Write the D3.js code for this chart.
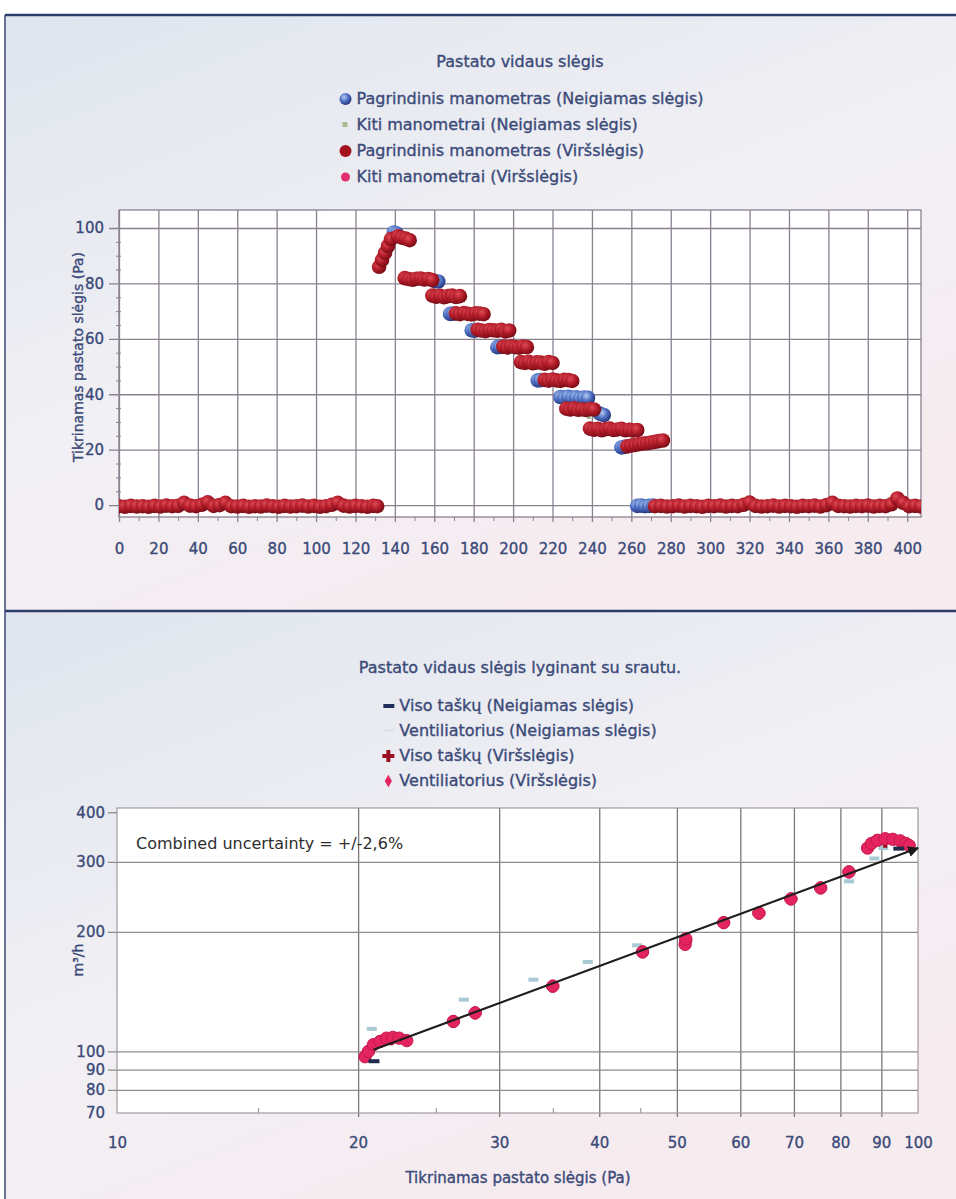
<!DOCTYPE html>
<html>
<head>
<meta charset="utf-8">
<script src="https://cdn.jsdelivr.net/npm/d3@7"></script>
<style>
  body { margin: 0; background: #fff; }
  text { font-family: "DejaVu Sans", "Noto Sans", sans-serif; }
</style>
</head>
<body>
<div id="chart"></div>
<script>
// ---------- chart 1: Pastato vidaus slėgis ----------
const title1 = "Pastato vidaus slėgis";
const legend1 = [
  "Pagrindinis manometras (Neigiamas slėgis)",
  "Kiti manometrai (Neigiamas slėgis)",
  "Pagrindinis manometras (Viršslėgis)",
  "Kiti manometrai (Viršslėgis)"
];
const xTicks1 = [0, 20, 40, 60, 80, 100, 120, 140, 160, 180, 200, 220, 240, 260, 280, 300, 320, 340, 360, 380, 400];
const xMinor1 = [10, 30, 50, 70, 90, 110, 130, 150, 170, 190, 210, 230, 250, 270, 290, 310, 330, 350, 370, 390];
const yTicks1 = [0, 20, 40, 60, 80, 100];
const yMinor1 = [5, 10, 15, 25, 30, 35, 45, 50, 55, 65, 70, 75, 85, 90, 95];

// Pagrindinis manometras (Neigiamas slėgis)
const mainNeg = [
  [139.5, 98.4], [141, 98], [160, 80.9], [162, 80.7], [168, 69], [169.5, 69.1],
  [179, 63.1], [180.5, 62.9], [192, 57], [193.5, 57.1], [212.5, 45], [214, 45.1],
  [224, 39], [226, 38.8], [228, 39.1], [230, 38.7], [232, 38.9], [234, 38.6], [236, 38.8], [238, 38.7],
  [244, 33], [246, 32.5], [255, 20.8], [256.5, 21],
  [263, -0.3], [265, -0.2], [267, -0.4], [269, -0.3], [271, -0.2]
];
// Kiti manometrai (Neigiamas slėgis)
const otherNeg = [[238.5, 31.8]];
// Pagrindinis manometras (Viršslėgis)
const mainPos = [
  [0, -0.4], [3, -0.6], [6, -0.3], [9, -0.5], [12, -0.4], [15, -0.6], [18, -0.3], [21, -0.5], [24, -0.2],
  [27, -0.4], [30, -0.3], [33, 0.8], [36, -0.2], [39, -0.4], [42, 0.1], [45, 1.0], [48, -0.3], [51, 0.0],
  [54, 0.8], [57, -0.4], [60, -0.5], [63, -0.3], [66, -0.6], [69, -0.4], [72, -0.5], [75, -0.2], [78, -0.4],
  [81, -0.6], [84, -0.3], [87, -0.5], [90, -0.4], [93, -0.2], [96, -0.5], [99, -0.3], [102, -0.6], [105, -0.4],
  [108, 0.1], [111, 0.8], [114, -0.2], [117, -0.5], [120, -0.3], [123, -0.4], [126, -0.6], [129, -0.3], [131, -0.4],
  [132, 86], [133.5, 88.5], [135, 91], [136.5, 93.5], [138, 96], [141.5, 97], [143.5, 96.5], [145.5, 96.2], [147.5, 95.6],
  [145, 81.9], [147, 81.6], [149, 81.3], [151, 81.7], [153, 81.8], [155, 81.4], [157, 81.6], [159, 81.2],
  [159, 75.6], [161, 75.2], [163, 75.5], [165, 75.0], [167, 75.4], [169, 75.6], [171, 75.1], [173, 75.4],
  [171, 69.2], [173, 68.9], [175, 69.3], [177, 69.0], [179, 68.8], [181, 69.2], [183, 69.1], [185, 68.9],
  [182, 63.3], [184, 63.0], [186, 62.8], [188, 63.2], [190, 63.1], [192, 62.9], [194, 63.3], [196, 62.7], [198, 63.0],
  [195, 57.2], [197, 56.9], [199, 57.3], [201, 57.0], [203, 56.8], [205, 57.2], [207, 57.0],
  [204, 51.6], [206, 51.3], [208, 51.7], [210, 51.2], [212, 51.5], [214, 51.4], [216, 51.0], [218, 51.6], [220, 51.3],
  [216, 45.2], [218, 44.9], [220, 45.3], [222, 45.0], [224, 44.8], [226, 45.2], [228, 45.1], [230, 44.8],
  [227, 34.8], [229, 34.5], [231, 34.9], [233, 34.4], [235, 34.6], [237, 34.3], [239, 34.7], [241, 34.5],
  [239, 27.6], [241, 27.2], [243, 27.5], [245, 27.0], [247, 27.4], [249, 27.6], [251, 27.1], [253, 27.3],
  [255, 27.5], [257, 27.0], [259, 27.2], [261, 26.9], [263, 27.1],
  [258, 21.2], [260, 21.5], [262, 21.7], [264, 22.0], [266, 22.2], [268, 22.3], [270, 22.6], [272, 22.8], [274, 23.1], [276, 23.3],
  [272, -0.4], [275, -0.3], [278, -0.5], [281, -0.4], [284, -0.2], [287, -0.5], [290, -0.3], [293, -0.4], [296, -0.6],
  [299, -0.3], [302, -0.4], [305, -0.2], [308, -0.5], [311, -0.3], [314, -0.4], [317, 0.1], [320, 0.9], [323, -0.3],
  [326, -0.5], [329, -0.4], [332, -0.2], [335, -0.5], [338, -0.3], [341, -0.4], [344, -0.6], [347, -0.3], [350, -0.4],
  [353, -0.2], [356, -0.5], [359, 0.0], [362, 0.8], [365, -0.3], [368, -0.4], [371, -0.5], [374, -0.3], [377, -0.4],
  [380, -0.2], [383, -0.5], [386, -0.3], [389, -0.4], [392, 0.3], [395, 2.4], [398, 0.8], [401, -0.4], [404, -0.3], [407, -0.5]
];
// Kiti manometrai (Viršslėgis)
const otherPos = [];

// ---------- chart 2: Pastato vidaus slėgis lyginant su srautu ----------
const title2 = "Pastato vidaus slėgis lyginant su srautu.";
const legend2 = [
  "Viso taškų (Neigiamas slėgis)",
  "Ventiliatorius (Neigiamas slėgis)",
  "Viso taškų (Viršslėgis)",
  "Ventiliatorius (Viršslėgis)"
];
const xTicks2 = [10, 20, 30, 40, 50, 60, 70, 80, 90, 100];
const xMinor2 = [15, 25, 35, 45];
const yTicks2 = [70, 80, 90, 100, 200, 300, 400];
const yGrid2 = [80, 90, 100, 200, 300];
const uncertaintyText = "Combined uncertainty = +/-2,6%";

// Viso taškų (Neigiamas slėgis)
const allNeg = [[20.9, 94.5], [94.5, 324]];
// Ventiliatorius (Neigiamas slėgis)
const fanNeg = [[20.8, 114], [27.1, 135], [33.1, 151.6], [38.7, 168], [44.6, 185], [82, 268], [88.2, 306], [90.5, 325]];
// Viso taškų (Viršslėgis)
const allPos = [[20.6, 100], [22.0, 107.5], [26.3, 119], [28.0, 125], [35.0, 146], [45.3, 178], [51.3, 190],
  [57.2, 211], [63.3, 223], [69.4, 242], [75.6, 258], [82.0, 283], [91.0, 338]];
// Ventiliatorius (Viršslėgis)
const fanPos = [[20.4, 97], [20.6, 100], [20.9, 104], [21.3, 106], [21.7, 108], [22.1, 108.5], [22.5, 108], [23.0, 106.5],
  [26.3, 119], [28.0, 125], [35.0, 146], [45.3, 178], [51.2, 186], [51.3, 192], [57.2, 211], [63.3, 223], [69.4, 242],
  [75.6, 258], [82.0, 283], [86.5, 325], [87.5, 334], [89, 340], [91, 343], [93, 342], [95, 339], [96.5, 334], [97.5, 330]];
// fitted line ends
const fitLine = [[20.9, 101], [100, 325]];

// ---------- drawing ----------
const W = 956, H = 1199;
const textCol = "#3b4a78", gridCol = "#8a8190";

const svg = d3.select("#chart").append("svg")
  .attr("width", W).attr("height", H);

const defs = svg.append("defs");
function sphere(id, c0, c1, c2) {
  const g = defs.append("radialGradient").attr("id", id)
    .attr("cx", "38%").attr("cy", "35%").attr("r", "65%");
  g.append("stop").attr("offset", "0%").attr("stop-color", c0);
  g.append("stop").attr("offset", "55%").attr("stop-color", c1);
  g.append("stop").attr("offset", "100%").attr("stop-color", c2);
}
sphere("gRed", "#e04a56", "#b01c28", "#780c16");
sphere("gBlue", "#b4ccf2", "#4d6fc4", "#26367c");

const bg = defs.append("linearGradient").attr("id", "panelBg")
  .attr("x1", "0").attr("y1", "0").attr("x2", "0.6").attr("y2", "1");
bg.append("stop").attr("offset", "0%").attr("stop-color", "#dfe5ee");
bg.append("stop").attr("offset", "55%").attr("stop-color", "#f1f0f4");
bg.append("stop").attr("offset", "100%").attr("stop-color", "#f6ebef");

defs.append("marker").attr("id", "arrow")
  .attr("viewBox", "0 0 10 10").attr("refX", 9).attr("refY", 5)
  .attr("markerWidth", 5).attr("markerHeight", 5).attr("orient", "auto")
  .append("path").attr("d", "M0,0L10,5L0,10Z").attr("fill", "#1a1a1a");

// panels
svg.append("rect").attr("x", 5).attr("y", 15).attr("width", W - 5).attr("height", 596).attr("fill", "url(#panelBg)");
svg.append("rect").attr("x", 5).attr("y", 611).attr("width", W - 5).attr("height", H - 611).attr("fill", "url(#panelBg)");
svg.append("line").attr("x1", 5).attr("x2", W).attr("y1", 15).attr("y2", 15).attr("stroke", "#2c3d6c").attr("stroke-width", 2.5);
svg.append("line").attr("x1", 5).attr("x2", W).attr("y1", 611).attr("y2", 611).attr("stroke", "#2c3d6c").attr("stroke-width", 2.5);
svg.append("line").attr("x1", 5).attr("x2", 5).attr("y1", 15).attr("y2", H).attr("stroke", "#3a4a70").attr("stroke-width", 1.5);

function styleText(sel, size) {
  sel.attr("fill", textCol).attr("font-size", size)
    .attr("stroke", textCol).attr("stroke-width", 0.35);
}

// centred legend block: marker column then text
function drawLegend(items, cx, y0, step, size) {
  const g = svg.append("g");
  const texts = items.map((t, i) => g.append("text").attr("y", y0 + i * step + 5).text(t).call(styleText, size));
  const wMax = d3.max(texts, t => t.node().getComputedTextLength());
  const markX = cx - (wMax + 16) / 2 + 5;
  texts.forEach(t => t.attr("x", markX + 11));
  return { g, markX };
}

// ===== chart 1 =====
const p1 = { left: 119, right: 921, top: 210, bottom: 517 };
const x1 = d3.scaleLinear().domain([0, 407]).range([p1.left, p1.right]);
const y1 = d3.scaleLinear().domain([-4.3, 106.5]).range([p1.bottom, p1.top]);

svg.append("rect").attr("x", p1.left).attr("y", p1.top)
  .attr("width", p1.right - p1.left).attr("height", p1.bottom - p1.top).attr("fill", "#fff");

// vertical grid (extends 5px under the axis)
svg.append("g").attr("transform", `translate(0,${p1.bottom + 5})`)
  .call(d3.axisBottom(x1).tickValues(xTicks1).tickSize(-(p1.bottom + 5 - p1.top)).tickSizeOuter(0).tickFormat(""))
  .call(g => g.select(".domain").remove())
  .selectAll("line").attr("stroke", gridCol).attr("stroke-width", 1.3);
// horizontal grid (extends 10px left)
svg.append("g").attr("transform", `translate(${p1.left - 10},0)`)
  .call(d3.axisLeft(y1).tickValues(yTicks1).tickSize(-(p1.right - p1.left + 10)).tickSizeOuter(0).tickFormat(""))
  .call(g => g.select(".domain").remove())
  .selectAll("line").attr("stroke", gridCol).attr("stroke-width", 1.3);
// minor ticks
svg.append("g").attr("transform", `translate(0,${p1.bottom})`)
  .call(d3.axisBottom(x1).tickValues(xMinor1).tickSize(4).tickSizeOuter(0).tickFormat(""))
  .call(g => g.select(".domain").remove())
  .selectAll("line").attr("stroke", gridCol);
svg.append("g").attr("transform", `translate(${p1.left + 2},0)`)
  .call(d3.axisLeft(y1).tickValues(yMinor1).tickSize(5).tickSizeOuter(0).tickFormat(""))
  .call(g => g.select(".domain").remove())
  .selectAll("line").attr("stroke", gridCol);
// frame
svg.append("rect").attr("x", p1.left).attr("y", p1.top)
  .attr("width", p1.right - p1.left).attr("height", p1.bottom - p1.top)
  .attr("fill", "none").attr("stroke", gridCol).attr("stroke-width", 1.3);

// tick labels
svg.append("g").attr("transform", `translate(0,${p1.bottom})`)
  .call(d3.axisBottom(x1).tickValues(xTicks1).tickSize(0).tickPadding(37))
  .call(g => g.select(".domain").remove())
  .selectAll("text").attr("dy", 0).attr("font-family", null).call(styleText, 15);
svg.append("g").attr("transform", `translate(${p1.left - 15},0)`)
  .call(d3.axisLeft(y1).tickValues(yTicks1).tickSize(0).tickPadding(0))
  .call(g => g.select(".domain").remove())
  .selectAll("text").call(styleText, 15);

svg.append("text")
  .attr("transform", `translate(83,357) rotate(-90)`)
  .attr("text-anchor", "middle").call(styleText, 14)
  .text("Tikrinamas pastato slėgis (Pa)");

// points
svg.append("clipPath").attr("id", "clip1").append("rect")
  .attr("x", p1.left).attr("y", p1.top).attr("width", p1.right - p1.left).attr("height", p1.bottom - p1.top);
const d1 = svg.append("g").attr("clip-path", "url(#clip1)");
d1.selectAll(".neg").data(mainNeg).enter().append("circle")
  .attr("cx", d => x1(d[0])).attr("cy", d => y1(d[1])).attr("r", 7.3)
  .attr("fill", "url(#gBlue)");
d1.selectAll(".oneg").data(otherNeg).enter().append("rect")
  .attr("x", d => x1(d[0]) - 2).attr("y", d => y1(d[1]) - 2).attr("width", 4).attr("height", 4)
  .attr("fill", "#9fba8c");
d1.selectAll(".pos").data(mainPos).enter().append("circle")
  .attr("cx", d => x1(d[0])).attr("cy", d => y1(d[1])).attr("r", 7.3)
  .attr("fill", "url(#gRed)");
d1.selectAll(".opos").data(otherPos).enter().append("circle")
  .attr("cx", d => x1(d[0])).attr("cy", d => y1(d[1])).attr("r", 4)
  .attr("fill", "#e0306e");

// title + legend
svg.append("text").attr("x", 520).attr("y", 67).attr("text-anchor", "middle")
  .call(styleText, 16).text(title1);
const leg1 = drawLegend(legend1, 522, 99, 26, 16);
const m1 = leg1.markX;
leg1.g.append("circle").attr("cx", m1).attr("cy", 99).attr("r", 6).attr("fill", "url(#gBlue)");
leg1.g.append("rect").attr("x", m1 - 3).attr("y", 122).attr("width", 5).attr("height", 5).attr("fill", "#a9bb93");
leg1.g.append("circle").attr("cx", m1).attr("cy", 151).attr("r", 6).attr("fill", "#a3101e");
leg1.g.append("circle").attr("cx", m1).attr("cy", 177).attr("r", 4.5).attr("fill", "#e0306e");

// ===== chart 2 =====
const p2 = { left: 117, right: 918, top: 808, bottom: 1113 };
const x2 = d3.scaleLog().domain([10, 100]).range([p2.left, p2.right]);
const y2 = d3.scaleLog().domain([70, 410]).range([p2.bottom, p2.top]);

svg.append("rect").attr("x", p2.left).attr("y", p2.top)
  .attr("width", p2.right - p2.left).attr("height", p2.bottom - p2.top).attr("fill", "#fff");

svg.append("g").attr("transform", `translate(0,${p2.bottom + 4})`)
  .call(d3.axisBottom(x2).tickValues(xTicks2.slice(1, -1)).tickSize(-(p2.bottom + 4 - p2.top)).tickSizeOuter(0).tickFormat(""))
  .call(g => g.select(".domain").remove())
  .selectAll("line").attr("stroke", "#7e7678").attr("stroke-width", 1.3);
svg.append("g").attr("transform", `translate(${p2.left - 9},0)`)
  .call(d3.axisLeft(y2).tickValues(yGrid2).tickSize(-(p2.right - p2.left + 9)).tickSizeOuter(0).tickFormat(""))
  .call(g => g.select(".domain").remove())
  .selectAll("line").attr("stroke", "#8c8c8c").attr("stroke-width", 1.3);
svg.append("g").attr("transform", `translate(${p2.left},0)`)
  .call(d3.axisLeft(y2).tickValues([400]).tickSize(9).tickSizeOuter(0).tickFormat(""))
  .call(g => g.select(".domain").remove())
  .selectAll("line").attr("stroke", "#8c8c8c").attr("stroke-width", 1.3);
svg.append("g").attr("transform", `translate(0,${p2.bottom})`)
  .call(d3.axisTop(x2).tickValues(xMinor2).tickSize(5).tickSizeOuter(0).tickFormat(""))
  .call(g => g.select(".domain").remove())
  .selectAll("line").attr("stroke", "#8c8c8c");
svg.append("rect").attr("x", p2.left).attr("y", p2.top)
  .attr("width", p2.right - p2.left).attr("height", p2.bottom - p2.top)
  .attr("fill", "none").attr("stroke", "#a09aa0").attr("stroke-width", 1.2);

svg.append("g").attr("transform", `translate(0,${p2.bottom})`)
  .call(d3.axisBottom(x2).tickValues(xTicks2).tickSize(0).tickPadding(24).tickFormat(d3.format("d")))
  .call(g => g.select(".domain").remove())
  .selectAll("text").attr("font-family", null).call(styleText, 15);
svg.append("g").attr("transform", `translate(${p2.left - 12},0)`)
  .call(d3.axisLeft(y2).tickValues(yTicks2).tickSize(0).tickPadding(0).tickFormat(d3.format("d")))
  .call(g => g.select(".domain").remove())
  .selectAll("text").attr("font-family", null).call(styleText, 15);

svg.append("text")
  .attr("transform", `translate(83,960) rotate(-90)`)
  .attr("text-anchor", "middle").call(styleText, 14)
  .text("m³/h");
svg.append("text").attr("x", 518).attr("y", 1183).attr("text-anchor", "middle")
  .call(styleText, 15).text("Tikrinamas pastato slėgis (Pa)");

svg.append("text").attr("x", 136).attr("y", 849)
  .attr("font-size", 16).attr("fill", "#2e2e2e")
  .text(uncertaintyText);

const d2 = svg.append("g");
d2.selectAll(".fneg").data(fanNeg).enter().append("rect")
  .attr("x", d => x2(d[0]) - 5).attr("y", d => y2(d[1]) - 2).attr("width", 10).attr("height", 4)
  .attr("fill", "#a9c9d4");
d2.selectAll(".apos").data(allPos).enter().append("path")
  .attr("transform", d => `translate(${x2(d[0])},${y2(d[1])})`)
  .attr("d", d3.symbol(d3.symbolCross, 90))
  .attr("fill", "#9a1020");
d2.selectAll(".fpos").data(fanPos).enter().append("path")
  .attr("transform", d => `translate(${x2(d[0])},${y2(d[1])})`)
  .attr("d", d3.symbol(d3.symbolCircle, 120))
  .attr("fill", "#e3245f").attr("stroke", "#c8184c").attr("stroke-width", 1);
d2.append("path").datum(fitLine)
  .attr("d", d3.line().x(d => x2(d[0])).y(d => y2(d[1])))
  .attr("stroke", "#1e1e1e").attr("stroke-width", 2.2).attr("fill", "none")
  .attr("marker-end", "url(#arrow)");
d2.selectAll(".aneg").data(allNeg).enter().append("rect")
  .attr("x", d => x2(d[0]) - 5).attr("y", d => y2(d[1]) - 2).attr("width", 11).attr("height", 4)
  .attr("fill", "#1f2a4a");

svg.append("text").attr("x", 520).attr("y", 673).attr("text-anchor", "middle")
  .call(styleText, 16).text(title2);
const leg2 = drawLegend(legend2, 520, 706, 25, 16);
const m2 = leg2.markX;
leg2.g.append("rect").attr("x", m2 - 5).attr("y", 704).attr("width", 11).attr("height", 4).attr("fill", "#1f2d5c");
leg2.g.append("rect").attr("x", m2 - 5).attr("y", 729).attr("width", 11).attr("height", 3).attr("fill", "#dfe3ea");
leg2.g.append("path").attr("transform", `translate(${m2},756)`).attr("d", d3.symbol(d3.symbolCross, 80)).attr("fill", "#9a1020");
leg2.g.append("path").attr("transform", `translate(${m2},781)`).attr("d", d3.symbol(d3.symbolDiamond, 45)).attr("fill", "#e3245f");
</script>
</body>
</html>
